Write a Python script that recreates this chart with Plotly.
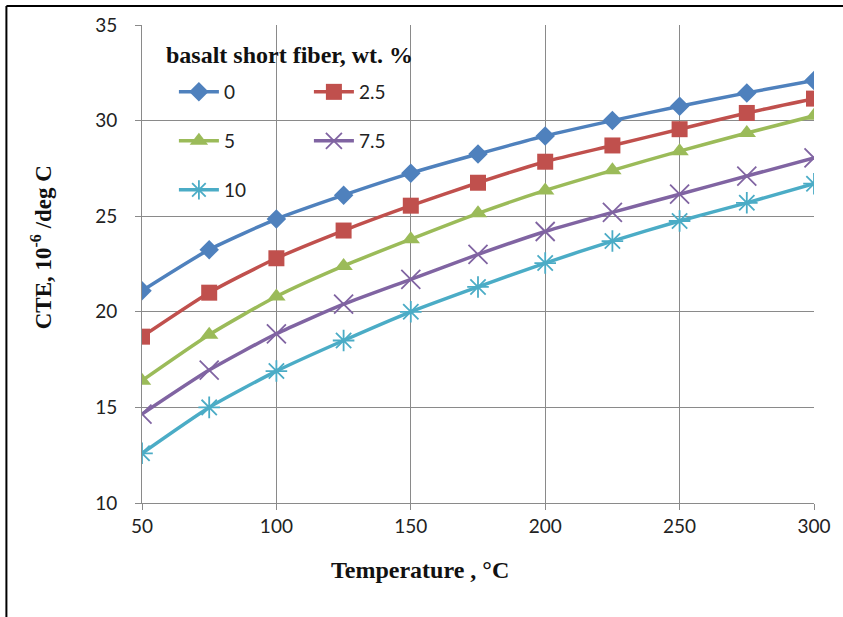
import plotly.graph_objects as go

temperature = [50, 75, 100, 125, 150, 175, 200, 225, 250, 275, 300]
cte_0 = [21.1, 23.25, 24.85, 26.1, 27.25, 28.25, 29.2, 30.0, 30.75, 31.45, 32.1]
cte_2_5 = [18.7, 21.0, 22.8, 24.25, 25.55, 26.75, 27.85, 28.7, 29.55, 30.4, 31.15]
cte_5 = [16.4, 18.8, 20.8, 22.4, 23.8, 25.15, 26.35, 27.4, 28.4, 29.35, 30.25]
cte_7_5 = [14.65, 16.95, 18.85, 20.4, 21.7, 23.0, 24.2, 25.2, 26.15, 27.1, 28.05]
cte_10 = [12.6, 15.0, 16.9, 18.5, 20.0, 21.3, 22.55, 23.7, 24.75, 25.7, 26.7]

series_names = ["0", "2.5", "5", "7.5", "10"]
series_values = [cte_0, cte_2_5, cte_5, cte_7_5, cte_10]
colors = ["#4F81BD", "#C0504D", "#9BBB59", "#8064A2", "#4BACC6"]
symbols = ["diamond", "square", "triangle-up", "x-thin-open", "asterisk-open"]
sizes = [15, 16, 16, 19, 18]
legends = ["legend", "legend", "legend2", "legend2", "legend3"]

fig = go.Figure()
for name, vals, c, s, sz, lg in zip(series_names, series_values, colors, symbols, sizes, legends):
    fig.add_trace(go.Scatter(
        x=temperature, y=vals, name=name, mode="lines+markers",
        line=dict(color=c, width=3.5, shape="spline", smoothing=0.6),
        marker=dict(symbol=s, size=sz, color=c, line=dict(color=c, width=1.8 if "open" in s else 0)),
        legend=lg,
    ))

W, H = 843, 617
L, R, T, B = 142, 27, 25, 114
pw, ph = W - L - R, H - T - B

def px(xp):
    return (xp - L) / pw

def py(yp):
    return (H - B - yp) / ph

leg_common = dict(orientation="h", entrywidth=80, entrywidthmode="pixels",
                  bgcolor="rgba(0,0,0,0)", font=dict(family="Lato", size=19, color="#222"),
                  xanchor="left", yanchor="middle", itemwidth=40, itemsizing="trace")

tickfont = dict(family="Lato", size=19, color="#222")

fig.update_layout(
    width=W, height=H,
    margin=dict(l=L, r=R, t=T, b=B),
    paper_bgcolor="white", plot_bgcolor="white",
    showlegend=True,
    legend=dict(x=px(174), y=py(92), **leg_common),
    legend2=dict(x=px(174), y=py(141), **leg_common),
    legend3=dict(x=px(174), y=py(190), **leg_common),
    xaxis=dict(range=[50, 300], tickvals=[50, 100, 150, 200, 250, 300],
               showgrid=True, gridcolor="#8a8a8a", gridwidth=1,
               showline=True, linecolor="#8a8a8a", linewidth=1,
               ticks="outside", ticklen=6, tickcolor="#8a8a8a",
               tickfont=tickfont, zeroline=False),
    yaxis=dict(range=[10, 35], tickvals=[10, 15, 20, 25, 30, 35],
               showgrid=True, gridcolor="#8a8a8a", gridwidth=1,
               showline=True, linecolor="#8a8a8a", linewidth=1,
               ticks="outside", ticklen=6, tickcolor="#8a8a8a", ticklabelstandoff=14,
               tickfont=tickfont, zeroline=False),
    annotations=[
        dict(text="<b>basalt short fiber, wt. %</b>", xref="paper", yref="paper",
             x=px(164), y=py(55), xanchor="left", yanchor="middle", showarrow=False,
             font=dict(family="Liberation Serif", size=24, color="#111")),
        dict(text="<b>Temperature , °C</b>", xref="paper", yref="paper",
             x=px(421), y=py(570), xanchor="center", yanchor="middle", showarrow=False,
             font=dict(family="Liberation Serif", size=24, color="#111")),
        dict(text="<b>CTE, 10<sup>-6</sup> /deg C</b>", xref="paper", yref="paper",
             x=px(41), y=py(247), xanchor="center", yanchor="middle", showarrow=False,
             textangle=-90, font=dict(family="Liberation Serif", size=23, color="#111")),
    ],
    shapes=[
        dict(type="line", xref="paper", yref="paper", x0=px(6), x1=px(850), y0=py(6), y1=py(6),
             line=dict(color="black", width=2)),
        dict(type="line", xref="paper", yref="paper", x0=px(6), x1=px(6), y0=py(6), y1=py(650),
             line=dict(color="black", width=2)),
    ],
)

fig.write_html("out.html", config={"displayModeBar": False},
               post_script="document.body.style.margin='0px';")
